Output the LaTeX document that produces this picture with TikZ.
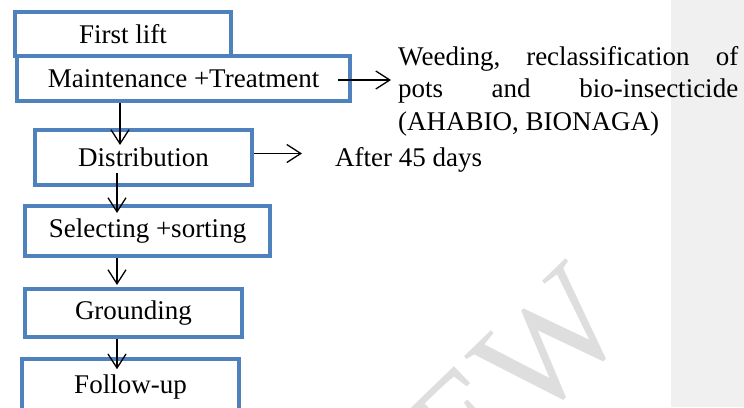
\documentclass[tikz,border=0pt]{standalone}
\usepackage{fontspec}
\setmainfont{Liberation Serif}
\usetikzlibrary{arrows.meta, calc}
\definecolor{boxblue}{HTML}{4F81BD}
\definecolor{panelgrey}{HTML}{F0F0F0}
\definecolor{markgrey}{HTML}{DEDEDE}
\tikzset{
    stage/.style = {draw = boxblue, line width = 3.6pt, fill = white,
        inner sep = 0pt, font = \fontsize{27}{32.5}\selectfont},
    note/.style = {inner sep = 0pt, font = \fontsize{27}{32.5}\selectfont},
    arr/.style = {line width = 1.3pt,
        -{Straight Barb[length = 14pt, width = 18pt, line width = 1.3pt]}},
}
\begin{document}
\begin{tikzpicture}[x = 1pt, y = 1pt]
    \useasboundingbox (0, 0) rectangle (744, -407);
    \fill [panelgrey] (671, 0) rectangle (744, -407);
    % watermark
    \begin{scope}
        \clip (0, 0) rectangle (744, -407);
        \node (mark) [rotate = 44, anchor = base east, inner sep = 0pt,
            text = markgrey, font = \fontsize{150}{155}\selectfont]
            at (634, -329) {PREVIEW};
    \end{scope}
    % boxes
    \node (first) [stage, minimum width = 216.5pt, minimum height = 44.5pt]
        at (123, -34) {First lift};
    \node (maint) [stage, minimum width = 333.5pt, minimum height = 45.5pt]
        at (183.5, -78.5) {Maintenance +Treatment};
    \node (dist) [stage, minimum width = 217.5pt, minimum height = 55.5pt]
        at (143.5, -157.5) {Distribution};
    \node (select) [stage, minimum width = 245.5pt, minimum height = 50.5pt]
        at (147.5, -231) {Selecting +sorting};
    \node (ground) [stage, minimum width = 217.5pt, minimum height = 48.5pt]
        at (133.5, -313) {Grounding};
    \node (follow) [stage, minimum width = 217.5pt, minimum height = 56pt]
        at (130.5, -387) {Follow-up};
    % side notes
    \node (weed) [note, text width = 340pt, align = justify, anchor = north west]
        at (398, -46) {Weeding,\hfill reclassification\hfill of\\
        pots\hfill and\hfill bio-insecticide\\
        (AHABIO, BIONAGA)};
    \node (after) [note, anchor = base west] at (335, -166) {After 45 days};
    % connectors
    \coordinate (axa) at (120, 0);
    \coordinate (axb) at (117, 0);
    \draw [arr, shorten > = 7pt] ([shift = {(-14pt, -1.5pt)}]maint.east)
        -- ([yshift = -1.5pt]maint.east -| weed.west);
    \draw [arr, shorten > = 33pt] ([yshift = 4pt]dist.east)
        -- ([yshift = 4pt]dist.east -| after.west);
    \draw [arr] (maint.south -| axa) -- ([yshift = -17pt]dist.north -| axa);
    \draw [arr] ([yshift = 14pt]dist.south -| axb)
        -- ([yshift = -9pt]select.north -| axb);
    \draw [arr] (select.south -| axb) -- ([yshift = 2pt]ground.north -| axb);
    \draw [arr] (ground.south -| axb) -- ([yshift = -12pt]follow.north -| axb);
\end{tikzpicture}
\end{document}
